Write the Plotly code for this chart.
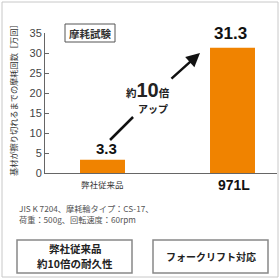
import plotly.graph_objects as go

categories = ["弊社従来品", "971L"]
values = [3.3, 31.3]
value_labels = ["3.3", "31.3"]
y_ticks = [0, 5, 10, 15, 20, 25, 30, 35]
y_title = "基材が擦り切れるまでの摩耗回数［万回］"
chart_title = "摩耗試験"
note_lines = ["JIS K 7204、摩耗輪タイプ：CS-17、", "荷重：500g、回転速度：60rpm"]
box1_lines = ["弊社従来品", "約10倍の耐久性"]
box2_text = "フォークリフト対応"

W = H = 280
JP = "Noto Sans CJK JP"
LAT = "Liberation Sans, Noto Sans CJK JP"
ORANGE = "#F08300"


def fx(p):
    return p / W


def fy(p):
    return 1 - p / H


fig = go.Figure()
fig.add_trace(go.Bar(x=categories, y=values, width=0.346, marker=dict(color=ORANGE, line=dict(width=0)),
                     hoverinfo="skip"))

fig.update_layout(
    template="none",
    width=W, height=H, margin=dict(l=0, r=0, t=0, b=0, pad=0, autoexpand=False),
    paper_bgcolor="white", plot_bgcolor="white", showlegend=False,
    xaxis=dict(domain=[fx(45), fx(277)], range=[-0.4423, 1.3423], showgrid=False, zeroline=False,
               showline=True, linecolor="#666", linewidth=1, showticklabels=False, ticks="", fixedrange=True,
               automargin=False),
    yaxis=dict(domain=[fy(173), fy(33)], range=[0, 35], tickvals=y_ticks, showgrid=False, zeroline=False,
               showline=True, linecolor="#666", linewidth=1, ticks="inside", ticklen=4, tickcolor="#666",
               tickfont=dict(family=LAT, size=11, color="#444"), fixedrange=True, automargin=False),
)


def label(x, y, text, size, family=JP, color="#333", xref="paper", yref="paper", **kw):
    d = dict(x=x, y=y, xref=xref, yref=yref, text=text, showarrow=False,
             xanchor=kw.pop("xanchor", "center"), yanchor=kw.pop("yanchor", "middle"),
             font=dict(family=family, size=size, color=color))
    d.update(kw)
    return d


ann = []
# value labels
ann.append(label(0, values[0], "<b>%s</b>" % value_labels[0], 15, LAT, "#111", "x", "y",
                 yanchor="bottom", yshift=1, xshift=4))
ann.append(label(1, values[1], "<b>%s</b>" % value_labels[1], 17, LAT, "#111", "x", "y",
                 yanchor="bottom", yshift=3, xshift=-2))
# category labels
ann.append(label(0, fy(184), categories[0], 8.5, JP, "#333", "x", "paper"))
ann.append(label(1, fy(185), "<b>%s</b>" % categories[1], 14, LAT, "#111", "x", "paper", xshift=1))
# y title
ann.append(label(fx(13), fy(98), y_title, 8.2, textangle=-90))
# chart title
ann.append(label(fx(90), fy(33), "<b>%s</b>" % chart_title, 10.5))
# arrow text
ann.append(label(fx(148), fy(90), "<b>約<span style='font-size:20px'>10</span>倍</b>", 10.5, LAT, "#222"))
ann.append(label(fx(153), fy(109), "<b>アップ</b>", 10, JP, "#222"))
# arrow head segment
ann.append(dict(x=0.75, y=30, xref="x", yref="y", ax=0.519, ay=23.25, axref="x", ayref="y", text="",
                showarrow=True, arrowhead=2, arrowsize=1.1, arrowwidth=2.5, arrowcolor="#111"))
# notes
ann.append(label(fx(17), fy(208), note_lines[0], 8.2, JP, "#555", xanchor="left"))
ann.append(label(fx(17), fy(219), note_lines[1], 8.2, JP, "#555", xanchor="left"))
# bottom boxes text
ann.append(label(fx(75), fy(248), "<b>%s</b>" % box1_lines[0], 10.5, JP, "#222"))
ann.append(label(fx(75), fy(263), "<b>%s</b>" % box1_lines[1], 10.5, JP, "#222"))
ann.append(label(fx(210.5), fy(256), "<b>%s</b>" % box2_text, 10, JP, "#222"))
fig.update_layout(annotations=ann)

shapes = [
    # outer border
    dict(type="rect", xref="paper", yref="paper", x0=fx(2), x1=fx(278), y0=fy(277), y1=fy(2),
         line=dict(color="#c8c8c8", width=1)),
    # title box
    dict(type="rect", xref="paper", yref="paper", x0=fx(65), x1=fx(115), y0=fy(42), y1=fy(24),
         line=dict(color="#555", width=1)),
    # arrow tail segment
    dict(type="line", xref="x", yref="y", x0=0.058, y0=8.25, x1=0.235, y1=14,
         line=dict(color="#111", width=2.5)),
    # bottom boxes
    dict(type="rect", xref="paper", yref="paper", x0=fx(17), x1=fx(132), y0=fy(273), y1=fy(240),
         line=dict(color="#888", width=1.5)),
    dict(type="rect", xref="paper", yref="paper", x0=fx(153), x1=fx(268), y0=fy(273), y1=fy(240),
         line=dict(color="#888", width=1.5)),
]
fig.update_layout(shapes=shapes)

fig.write_html("out.html")
